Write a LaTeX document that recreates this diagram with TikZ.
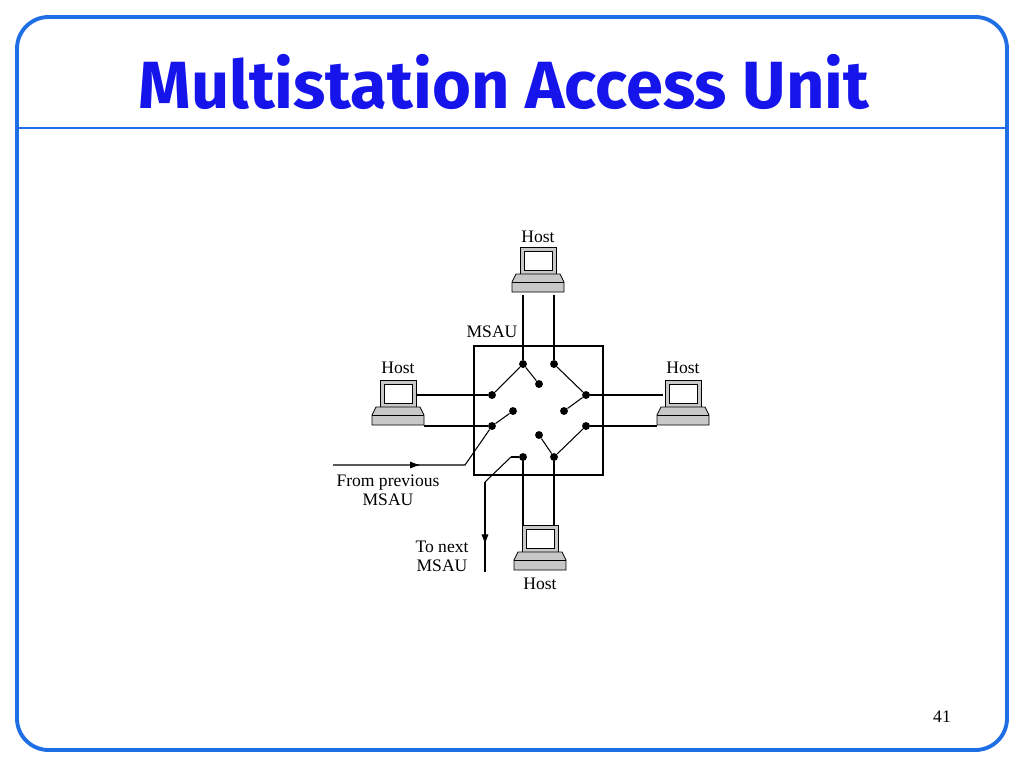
\documentclass[tikz,border=0pt]{standalone}
\usepackage{fontspec}
\setmainfont{Liberation Serif}
\newfontfamily\titlefont{Fira Sans}
\usetikzlibrary{calc,decorations.markings,arrows.meta}
\definecolor{titleblue}{RGB}{20,20,235}
\definecolor{framblue}{RGB}{30,110,230}
\definecolor{pcgray}{RGB}{200,200,200}
\begin{document}
\begin{tikzpicture}[x=0.02cm,y=-0.02cm,
   dot/.style={circle,fill,inner sep=0pt,minimum size=4.5pt},
   lbl/.style={font=\fontsize{10}{11}\selectfont,align=center},
   wire/.style={line width=0.6pt},
   mid arrow/.style={postaction={decorate},decoration={markings,
     mark=at position #1 with {\arrow{Latex[length=6pt,width=4pt]}}}},
   pc/.pic={
     \draw[fill=pcgray] (-18,-25) rectangle (18,2);
     \draw[fill=white] (-14,-21) rectangle (14,-2);
     \draw[fill=pcgray] (-22,2) -- (22,2) -- (26,10) -- (26,20) -- (-26,20) -- (-26,10) -- cycle;
     \draw (-26,10) -- (26,10);
   }
   ]
    \useasboundingbox (0,0) rectangle (1024,768);

    % Frame and title:
    \draw[framblue,line width=2.2pt,rounded corners=18pt] (17,17) rectangle (1007,750);
    \draw[framblue,line width=1.5pt] (17,128) -- (1007,128);
    \node[font=\titlefont\bfseries\fontsize{38}{44}\selectfont,text=titleblue] (title) at (504,82) {Multistation Access Unit};
    \node[font=\fontsize{10}{11}\selectfont] (page) at (942,717) {41};

    % Hosts:
    \pic at (538,272) {pc};
    \pic at (398,405) {pc};
    \pic at (683,405) {pc};
    \pic at (540,550) {pc};

    % MSAU box:
    \draw[wire] (474,346) rectangle (603,475);

    % Contacts:
    \node[dot] (t1) at (523,364) {};
    \node[dot] (t2) at (554,364) {};
    \node[dot] (ti) at (539,384) {};
    \node[dot] (r1) at (586,395) {};
    \node[dot] (ri) at (564,411) {};
    \node[dot] (r2) at (586,426) {};
    \node[dot] (l1) at (492,395) {};
    \node[dot] (li) at (513,411) {};
    \node[dot] (l2) at (492,426) {};
    \node[dot] (b1) at (523,457) {};
    \node[dot] (b2) at (554,457) {};
    \node[dot] (bi) at (539,435) {};

    % Host wires:
    \draw[wire] (523,295) -- (t1);
    \draw[wire] (554,295) -- (t2);
    \draw[wire] (416,395) -- (l1);
    \draw[wire] (424,426) -- (l2);
    \draw[wire] (r1) -- (663,395);
    \draw[wire] (r2) -- (657,426);
    \draw[wire] (b1) -- (523,525);
    \draw[wire] (b2) -- (554,525);

    % Switches:
    \draw[wire] (l1) -- (t1) -- (ti);
    \draw[wire] (t2) -- (r1) -- (ri);
    \draw[wire] (li) -- (l2);
    \draw[wire] (r2) -- (b2) -- (bi);
    \coordinate (bs) at (511,457);
    \draw[wire] (bs) -- (b1);

    % Ring in / out:
    \coordinate (inA) at (333,465);
    \coordinate (inB) at (465,465);
    \draw[wire,mid arrow=0.5] (inA) -- (inB) -- (l2);
    \coordinate (outA) at (485,482);
    \coordinate (outB) at (485,572);
    \draw[wire] (bs) -- (outA);
    \draw[wire,mid arrow=0.7] (outA) -- (outB);

    % Labels:
    \node[lbl] (th) at (538,237) {Host};
    \node[lbl] (ms) at (492,332) {MSAU};
    \node[lbl] (lh) at (398,368) {Host};
    \node[lbl] (rh) at (683,368) {Host};
    \node[lbl] (bh) at (540,584) {Host};
    \node[lbl] (from) at (388,490) {From previous\\MSAU};
    \node[lbl] (next) at (442,556) {To next\\MSAU};
\end{tikzpicture}
\end{document}
